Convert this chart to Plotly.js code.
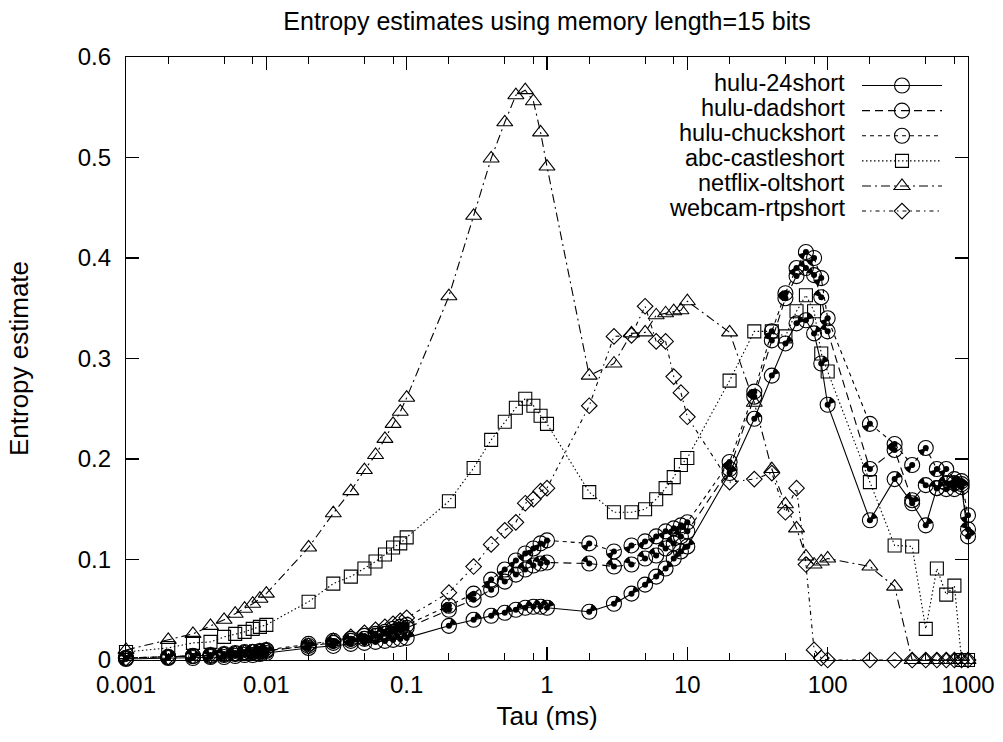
<!DOCTYPE html>
<html>
<head>
<meta charset="utf-8">
<script src="https://cdn.plot.ly/plotly-3.0.1.min.js"></script>
<style>
html,body{margin:0;padding:0;background:#fff;}
#chart{width:1003px;height:742px;}
</style>
</head>
<body>
<div id="chart"></div>
<script>
// Tau values (ms)
const tau = [
  0.001,0.002,0.003,0.004,0.005,0.006,0.007,0.008,0.009,
  0.01,0.02,0.03,0.04,0.05,0.06,0.07,0.08,0.09,
  0.1,0.2,0.3,0.4,0.5,0.6,0.7,0.8,0.9,
  1,2,3,4,5,6,7,8,9,
  10,20,30,40,50,60,70,80,90,
  100,200,300,400,500,600,700,800,900,
  1000
];

const hulu24short = [
  0.001,0.002,0.002,0.003,0.003,0.004,0.005,0.005,0.006,
  0.007,0.012,0.014,0.016,0.017,0.018,0.019,0.020,0.021,
  0.022,0.034,0.040,0.044,0.047,0.050,0.052,0.053,0.053,
  0.052,0.048,0.056,0.066,0.075,0.083,0.091,0.101,0.108,
  0.113,0.186,0.240,0.283,0.315,0.335,0.338,0.325,0.295,
  0.254,0.139,0.180,0.156,0.134,0.171,0.170,0.176,0.172,
  0.123
];

const huluDadshort = [
  0.002,0.003,0.004,0.004,0.005,0.006,0.007,0.008,0.008,
  0.009,0.014,0.017,0.019,0.021,0.024,0.026,0.028,0.030,
  0.032,0.050,0.060,0.070,0.078,0.085,0.090,0.094,0.096,
  0.097,0.096,0.093,0.095,0.101,0.104,0.111,0.116,0.123,
  0.128,0.190,0.262,0.318,0.360,0.382,0.390,0.383,0.361,
  0.327,0.190,0.209,0.159,0.174,0.171,0.176,0.170,0.175,
  0.130
];

const huluChuckshort = [
  0.002,0.003,0.004,0.005,0.006,0.007,0.008,0.008,0.009,
  0.010,0.016,0.019,0.021,0.024,0.026,0.028,0.031,0.033,
  0.035,0.054,0.066,0.080,0.090,0.099,0.106,0.111,0.116,
  0.119,0.116,0.108,0.114,0.118,0.123,0.128,0.131,0.134,
  0.137,0.197,0.267,0.327,0.365,0.390,0.406,0.400,0.380,
  0.340,0.235,0.215,0.194,0.211,0.190,0.190,0.180,0.178,
  0.144
];

const abcCastleshort = [
  0.008,0.012,0.017,0.018,0.023,0.026,0.028,0.031,0.033,
  0.035,0.058,0.076,0.083,0.091,0.098,0.105,0.112,0.116,
  0.122,0.158,0.191,0.219,0.237,0.251,0.260,0.253,0.243,
  0.235,0.167,0.147,0.147,0.150,0.160,0.171,0.182,0.194,
  0.201,0.278,0.327,0.327,0.322,0.347,0.363,0.347,0.305,
  0.287,0.177,0.114,0.113,0.031,0.091,0.065,0.074,0.000,
  0.000
];

const netflixOltshort = [
  0.010,0.020,0.026,0.034,0.040,0.046,0.051,0.056,0.061,
  0.066,0.112,0.146,0.168,0.189,0.204,0.220,0.235,0.247,
  0.261,0.362,0.442,0.499,0.535,0.562,0.567,0.556,0.525,
  0.491,0.283,0.295,0.325,0.326,0.343,0.345,0.347,0.348,
  0.357,0.326,0.256,0.190,0.155,0.131,0.103,0.095,0.098,
  0.101,0.093,0.073,0.000,0.000,0.000,0.000,0.000,0.000,
  0.000
];

const webcamRtpshort = [
  0.002,0.003,0.004,0.005,0.006,0.006,0.007,0.008,0.009,
  0.010,0.014,0.019,0.023,0.027,0.030,0.033,0.036,0.039,
  0.042,0.067,0.093,0.115,0.129,0.137,0.156,0.160,0.168,
  0.171,0.253,0.322,0.323,0.352,0.317,0.317,0.282,0.266,
  0.242,0.177,0.180,0.186,0.147,0.171,0.095,0.010,0.002,
  0.000,0.000,0.000,0.000,0.000,0.000,0.000,0.000,0.000,
  0.000
];

const seriesNames = ['hulu-24short','hulu-dadshort','hulu-chuckshort','abc-castleshort','netflix-oltshort','webcam-rtpshort'];

const xTickVals = [0.001,0.01,0.1,1,10,100,1000];
const xTickText = ['0.001','0.01','0.1','1','10','100','1000'];
const xMinorVals = [0.002,0.005,0.008,0.02,0.05,0.08,0.2,0.5,0.8,2,5,8,20,50,80,200,500,800];
const yTickVals = [0,0.1,0.2,0.3,0.4,0.5,0.6];
const yTickText = ['0','0.1','0.2','0.3','0.4','0.5','0.6'];

const titleText = 'Entropy estimates using memory length=15 bits';
const xTitle = 'Tau (ms)';
const yTitle = 'Entropy estimate';

const FONT = 'Liberation Sans, Arial, Helvetica, sans-serif';

// series styles: dash, symbol, size
const styles = [
  {dash: 'solid', symbol: 'circle-open', size: 15},
  {dash: '8px,5px', symbol: 'circle-open', size: 15},
  {dash: '4px,4px', symbol: 'circle-open', size: 15},
  {dash: '1.5px,2.5px', symbol: 'square-open', size: 13},
  {dash: '9px,4px,2px,4px', symbol: 'triangle-up-open', size: 14},
  {dash: '4px,4px,1.5px,4px', symbol: 'diamond-open', size: 12}
];
const seriesValues = [hulu24short, huluDadshort, huluChuckshort, abcCastleshort, netflixOltshort, webcamRtpshort];
// filled quadrant direction for the three hulu markers (rotation of wedge)
const quadAngles = [-135, 135, 45];

const data = [];
seriesValues.forEach(function (y, i) {
  const s = styles[i];
  data.push({
    type: 'scatter', mode: 'lines+markers', name: seriesNames[i],
    x: tau, y: y, cliponaxis: false, showlegend: false,
    line: {color: '#000', width: 1.1, dash: s.dash},
    marker: {symbol: s.symbol, size: s.size, color: '#000', line: {color: '#000', width: 1.1}}
  });
});
// black quadrant fill inside hulu circles
quadAngles.forEach(function (ang, i) {
  [['arrow-wide-up', 6], ['arrow-up', 7.5]].forEach(function (m) {
    data.push({
      type: 'scatter', mode: 'markers', x: tau, y: seriesValues[i], cliponaxis: false,
      showlegend: false, hoverinfo: 'skip', name: seriesNames[i],
      marker: {symbol: m[0], size: m[1], angle: ang, color: '#000', line: {width: 0}}
    });
  });
});
// legend samples (gnuplot style: text on the left, sample on the right)
seriesValues.forEach(function (y, i) {
  const s = styles[i];
  data.push({
    type: 'scatter', mode: 'lines+markers', name: '\u00a0', x: [null], y: [null],
    showlegend: true, hoverinfo: 'skip',
    line: {color: '#000', width: 1.1, dash: s.dash},
    marker: {symbol: s.symbol, size: s.size, color: '#000', line: {color: '#000', width: 1.1}}
  });
});

const legendTop = 70;   // px from top of figure to first legend row
const rowGap = 25;      // px between legend rows
const plotTop = 57, plotH = 603;
const annotations = seriesNames.map(function (n, i) {
  const py = legendTop + 13 + rowGap * i;
  return {
    text: n, xref: 'paper', yref: 'paper', x: 0.855, y: (plotTop + plotH - py) / plotH,
    xanchor: 'right', yanchor: 'middle', showarrow: false, borderpad: 0,
    font: {family: FONT, size: 23.5, color: '#000'}
  };
});

const axisCommon = {
  showgrid: false, zeroline: false, showline: true, linecolor: '#000', linewidth: 1.2,
  mirror: 'ticks', ticks: 'inside', ticklen: 13, tickwidth: 1.1, tickcolor: '#000',
  tickfont: {family: FONT, size: 24, color: '#000'}
};

const layout = {
  width: 1003, height: 742,
  paper_bgcolor: '#fff', plot_bgcolor: '#fff',
  font: {family: FONT, color: '#000'},
  margin: {l: 126, r: 35, t: 57, b: 82},
  title: {text: titleText, font: {family: FONT, size: 25, color: '#000'}, x: 0.5, xref: 'paper', y: 0.972, yanchor: 'middle'},
  xaxis: Object.assign({}, axisCommon, {
    type: 'log', range: [-3, 3], tickmode: 'array', tickvals: xTickVals, ticktext: xTickText,
    ticklabelstandoff: 3,
    minor: {tickmode: 'array', tickvals: xMinorVals, ticks: 'inside', ticklen: 7, tickwidth: 1, tickcolor: '#000', showgrid: false},
    title: {text: xTitle, font: {family: FONT, size: 26, color: '#000'}, standoff: 9}
  }),
  yaxis: Object.assign({}, axisCommon, {
    range: [0, 0.6], tickmode: 'array', tickvals: yTickVals, ticktext: yTickText,
    ticklabelstandoff: 9,
    title: {text: yTitle, font: {family: FONT, size: 26, color: '#000'}, standoff: 41}
  }),
  legend: {
    x: (857 - 126) / 842, xanchor: 'left', y: (plotTop + plotH - legendTop + 2) / plotH, yanchor: 'top',
    bgcolor: 'rgba(0,0,0,0)', borderwidth: 0,
    font: {family: FONT, size: 17, color: '#000'},
    itemwidth: 80
  },
  annotations: annotations,
  showlegend: true
};

Plotly.newPlot('chart', data, layout, {displayModeBar: false, staticPlot: true});
</script>
</body>
</html>
